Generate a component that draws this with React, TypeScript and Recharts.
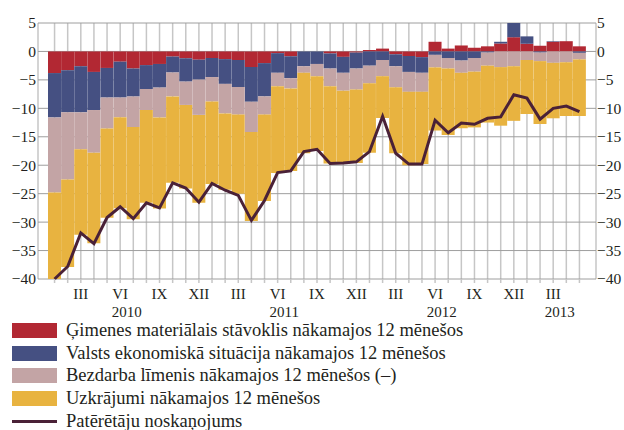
import { ComposedChart, Bar, Line, XAxis, YAxis, CartesianGrid } from 'recharts'

const MONTHS = [
    '2010-01', '2010-02', '2010-03', '2010-04', '2010-05', '2010-06', '2010-07', '2010-08', '2010-09', '2010-10', '2010-11', '2010-12',
    '2011-01', '2011-02', '2011-03', '2011-04', '2011-05', '2011-06', '2011-07', '2011-08', '2011-09', '2011-10', '2011-11', '2011-12',
    '2012-01', '2012-02', '2012-03', '2012-04', '2012-05', '2012-06', '2012-07', '2012-08', '2012-09', '2012-10', '2012-11', '2012-12',
    '2013-01', '2013-02', '2013-03', '2013-04', '2013-05',
]

// Ģimenes materiālais stāvoklis
const FAMILY = [
    -3.8, -3.3, -2.6, -3.6, -2.9, -1.8, -3.0, -2.4, -2.2, -0.9, -1.2, -1.45,
    -1.15, -1.35, -1.5, -2.75, -2.05, -0.3, -0.85, 0, 0, -0.35, -0.95, -0.2,
    0.25, 0.5, -0.5, -0.8, -1.0, 1.7, 0.5, 1.05, 0.65, 0.9, 1.4, 2.5,
    1.35, 1.0, 1.7, 1.8, 0.9,
]
// Valsts ekonomiskā situācija
const ECONOMY = [
    -7.8, -7.4, -8.1, -6.7, -5.2, -6.3, -4.9, -4.2, -4.15, -2.8, -4.1, -3.5,
    -3.35, -4.35, -4.75, -6.1, -5.85, -3.45, -3.85, -2.6, -2.2, -2.65, -2.8, -2.8,
    -2.5, -1.5, -2.1, -2.8, -2.75, -0.6, -1.15, -1.6, -1.15, -0.2, 0.3, 2.5,
    1.3, -0.2, 0.1, 0, -0.25,
]
// Bezdarba līmenis (–)
const UNEMPLOYMENT = [
    -13.2, -11.8, -6.5, -7.5, -5.45, -3.45, -5.4, -3.7, -5.25, -4.2, -4.1, -6.2,
    -4.3, -5.2, -4.85, -5.3, -3.2, -2.35, -1.8, -1.15, -2.15, -3.1, -3.15, -3.7,
    -3.1, -2.85, -3.7, -3.5, -3.35, -2.2, -1.85, -2.15, -2.4, -2.3, -2.75, -2.6,
    -1.5, -1.5, -2.0, -1.9, -1.15,
]
// Uzkrājumi
const SAVINGS = [
    -15.2, -15.4, -15.0, -15.9, -15.7, -16.0, -16.2, -16.3, -16.0, -15.2, -14.7, -15.45,
    -14.5, -13.4, -13.9, -15.65, -15.2, -15.25, -14.5, -14.15, -13.15, -13.6, -12.8, -12.9,
    -12.2, -7.35, -11.6, -12.9, -12.7, -11.1, -11.7, -9.75, -9.8, -10.0, -10.3, -9.6,
    -9.5, -11.05, -9.75, -9.45, -9.95,
]
// Patērētāju noskaņojums
const CONFIDENCE = [
    -40.0, -37.8, -31.9, -33.8, -29.2, -27.3, -29.4, -26.6, -27.5, -23.1, -24.0, -26.5,
    -23.2, -24.4, -25.3, -29.7, -26.2, -21.3, -21.0, -17.6, -17.2, -19.7, -19.6, -19.4,
    -17.6, -11.4, -17.9, -19.8, -19.8, -12.1, -14.3, -12.6, -12.8, -11.75, -11.5, -7.6,
    -8.2, -11.9, -10.0, -9.6, -10.6,
]

const Y_TICKS = [-40, -35, -30, -25, -20, -15, -10, -5, 0, 5]
const ROMAN: Record<number, string> = { 3: 'III', 6: 'VI', 9: 'IX', 12: 'XII' }

const SERIES = [
    { key: 'family', name: 'Ģimenes materiālais stāvoklis nākamajos 12 mēnešos', color: '#b22833' },
    { key: 'economy', name: 'Valsts ekonomiskā situācija nākamajos 12 mēnešos', color: '#455082' },
    { key: 'unemployment', name: 'Bezdarba līmenis nākamajos 12 mēnešos (–)', color: '#c3a4a5' },
    { key: 'savings', name: 'Uzkrājumi nākamajos 12 mēnešos', color: '#e8b340' },
]
const LINE_COLOR = '#4a2137'
const FONT = '"Liberation Serif", "Times New Roman", serif'

const data = MONTHS.map((m, i) => ({
    month: m,
    family: FAMILY[i],
    economy: ECONOMY[i],
    unemployment: UNEMPLOYMENT[i],
    savings: SAVINGS[i],
    confidence: CONFIDENCE[i],
}))

const fmt = (v: number) => (v < 0 ? '\u2212' + Math.abs(v) : String(v))

function MonthTick(props: any) {
    const { x, y, payload } = props
    const [yr, mo] = String(payload.value).split('-').map(Number)
    const band = 13.11
    let yearX: number | null = null
    if (mo === 7 && yr < 2013) yearX = x - band / 2
    if (yr === 2013 && mo === 3) yearX = x + band / 2
    return (
        <g fontFamily={FONT} fontSize={15} fill="#231f20">
            {ROMAN[mo] && (
                <text x={x} y={y + 14} textAnchor="middle">{ROMAN[mo]}</text>
            )}
            {yearX !== null && (
                <text x={yearX} y={y + 32} textAnchor="middle">{yr}</text>
            )}
        </g>
    )
}

function ValueTick(props: any) {
    const { x, y, payload, textAnchor } = props
    return (
        <text x={x} y={y} dy="0.35em" textAnchor={textAnchor} fontFamily={FONT} fontSize={15.5} fill="#231f20">
            {fmt(payload.value)}
        </text>
    )
}

export default function App() {
    return (
        <div style={{ position: 'absolute', left: 0, top: 0, width: 624, height: 430, overflow: 'hidden', background: '#fff', fontFamily: FONT, color: '#231f20' }}>
            <ComposedChart
                width={624}
                height={325}
                data={data}
                margin={{ top: 23, right: 0, bottom: 6, left: 0 }}
                stackOffset="sign"
                barCategoryGap={0}
                barGap={0}
            >
                <CartesianGrid horizontal={false} stroke="#c6c6c6" strokeWidth={1.5} />
                <CartesianGrid vertical={false} stroke="#9e9e9e" strokeWidth={1} />
                <XAxis
                    dataKey="month"
                    interval={0}
                    height={40}
                    axisLine={false}
                    tickLine={{ stroke: '#c6c6c6', strokeWidth: 1.5 }}
                    tickSize={4}
                    tickMargin={2}
                    padding={{ left: 10, right: 10 }}
                    tick={<MonthTick />}
                />
                <YAxis
                    domain={[-40, 5]}
                    ticks={Y_TICKS}
                    width={38}
                    axisLine={false}
                    tickLine={false}
                    tickSize={0}
                    tickMargin={2}
                    tick={<ValueTick />}
                />
                <YAxis
                    yAxisId="r"
                    orientation="right"
                    domain={[-40, 5]}
                    ticks={Y_TICKS}
                    width={28}
                    axisLine={false}
                    tickLine={false}
                    tickSize={0}
                    tickMargin={1}
                    tick={<ValueTick />}
                />
                {SERIES.map((s) => (
                    <Bar key={s.key} dataKey={s.key} stackId="a" fill={s.color} isAnimationActive={false} />
                ))}
                <Line dataKey="confidence" type="linear" stroke={LINE_COLOR} strokeWidth={3} dot={false} isAnimationActive={false} />
                <Line yAxisId="r" dataKey="confidence" stroke="none" dot={false} activeDot={false} isAnimationActive={false} />
            </ComposedChart>
            <div style={{ position: 'absolute', left: 12, top: 319, fontSize: 18.5, lineHeight: '22.7px' }}>
                {SERIES.map((s) => (
                    <div key={s.key} style={{ display: 'flex', alignItems: 'center', height: 22.7 }}>
                        <span style={{ width: 45, height: 15, background: s.color, marginRight: 9, flexShrink: 0 }} />
                        <span>{s.name}</span>
                    </div>
                ))}
                <div style={{ display: 'flex', alignItems: 'center', height: 22.7 }}>
                    <span style={{ width: 45, height: 3, background: LINE_COLOR, marginRight: 9, flexShrink: 0 }} />
                    <span>Patērētāju noskaņojums</span>
                </div>
            </div>
        </div>
    )
}
